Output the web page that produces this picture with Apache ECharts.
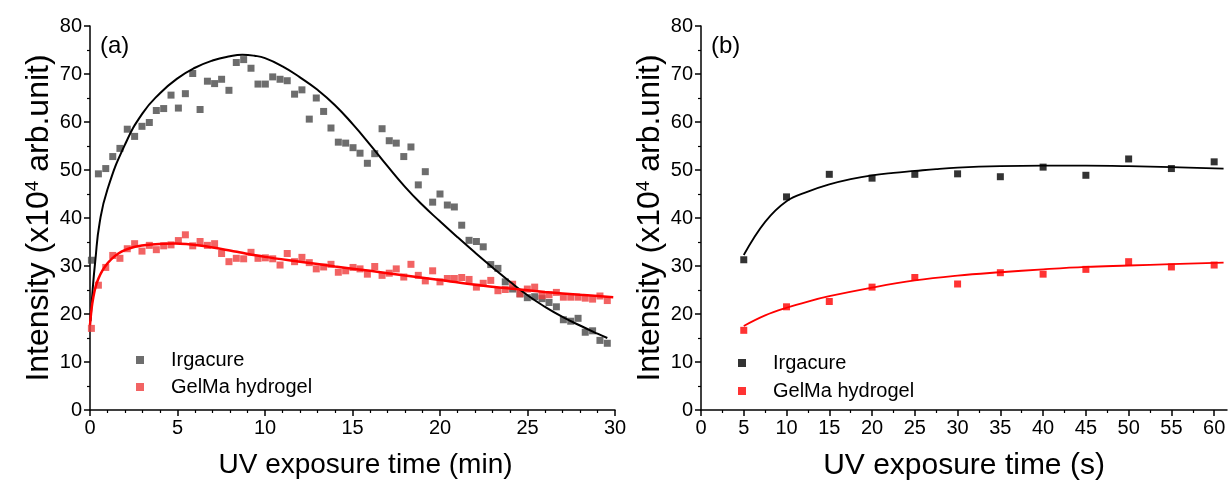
<!DOCTYPE html>
<html>
<head>
<meta charset="utf-8">
<script src="https://cdn.jsdelivr.net/npm/echarts@6/dist/echarts.min.js"></script>
<style>
  html, body { margin: 0; padding: 0; background: #fff; }
  #main { width: 1231px; height: 493px; }
</style>
</head>
<body>
<div id="main"></div>
<script>
// (a) UV exposure time (min) vs intensity
var timeA = [0.08, 0.48, 0.9, 1.3, 1.71, 2.13, 2.55, 2.97, 3.39, 3.79, 4.21, 4.63, 5.05, 5.45, 5.87, 6.29, 6.71, 7.12, 7.52, 7.94,
  8.36, 8.78, 9.2, 9.6, 10.02, 10.44, 10.86, 11.27, 11.69, 12.11, 12.53, 12.93, 13.35, 13.77, 14.19, 14.61, 15.03, 15.43, 15.85, 16.27,
  16.69, 17.1, 17.5, 17.93, 18.34, 18.76, 19.16, 19.58, 20.0, 20.42, 20.82, 21.24, 21.66, 22.08, 22.47, 22.9, 23.31, 23.73, 24.15, 24.57,
  24.99, 25.41, 25.83, 26.23, 26.65, 27.05, 27.47, 27.89, 28.3, 28.72, 29.14, 29.56];
var irgacureA = [31.2, 49.2, 50.3, 52.8, 54.5, 58.5, 57.0, 59.1, 59.9, 62.4, 62.8, 65.6, 62.9, 65.9, 70.1, 62.6, 68.5, 68.0, 68.9, 66.6,
  72.4, 73.0, 71.2, 67.9, 67.9, 69.4, 68.9, 68.6, 65.8, 66.7, 60.6, 65.0, 62.2, 58.75, 55.8, 55.6, 54.65, 53.5, 51.4, 53.4,
  58.6, 56.1, 55.6, 52.8, 54.8, 46.9, 49.65, 43.3, 45.0, 42.7, 42.3, 38.5, 35.35, 35.1, 34.0, 30.3, 29.5, 26.7, 25.2, 24.2,
  23.4, 23.6, 23.2, 22.4, 21.5, 18.8, 18.5, 19.1, 16.2, 16.5, 14.5, 13.9];
var gelmaA = [17.0, 26.0, 29.7, 32.2, 31.6, 33.6, 34.65, 33.1, 34.3, 33.4, 34.2, 34.4, 35.3, 36.5, 34.2, 35.1, 34.3, 34.65, 32.6, 30.9,
  31.6, 31.5, 32.85, 31.6, 31.7, 31.5, 30.2, 32.6, 30.9, 31.8, 30.7, 29.4, 29.8, 30.35, 28.7, 29.0, 29.7, 29.4, 28.3, 29.9,
  28.05, 28.5, 29.4, 27.7, 30.35, 28.05, 26.9, 29.0, 26.7, 27.4, 27.4, 27.6, 27.2, 25.6, 26.4, 27.0, 24.85, 25.1, 26.2, 24.2,
  25.2, 25.6, 23.8, 24.0, 24.5, 23.5, 23.5, 23.5, 23.3, 23.1, 23.75, 22.8];
// fitted curves
var fitTimeIrgA = [0.03, 0.15, 0.3, 0.55, 1, 2, 3, 4, 5, 6, 7, 8, 8.7, 9.4, 10, 11, 12, 13, 14, 15, 16, 17, 18, 19, 20, 21, 22, 23, 24, 25, 26, 27, 28, 29, 29.56];
var fitIrgA = [18.5, 25, 31, 39, 46, 55.3, 61.8, 66.0, 69.1, 71.3, 72.8, 73.7, 74.0, 73.8, 73.3, 71.6, 69.3, 66.7, 63.5, 59.6, 55.3, 50.8, 46.5, 42.7, 39.3, 36.0, 32.8, 29.7, 26.7, 23.9, 21.5, 19.4, 17.6, 15.9, 15.0];
var fitTimeGelA = [0.0, 0.13, 0.38, 0.86, 1.62, 2.57, 3.52, 4.86, 6.38, 8.29, 10, 12, 14, 16, 18, 20, 22, 24, 26, 28, 29.9];
var fitGelA = [17.7, 22.2, 26.4, 29.9, 32.6, 34.0, 34.5, 34.7, 34.2, 33.0, 31.9, 30.9, 29.9, 29.0, 28.0, 27.1, 26.1, 25.3, 24.6, 24.0, 23.5];

// (b) UV exposure time (s) vs intensity
var timeB = [5, 10, 15, 20, 25, 30, 35, 40, 45, 50, 55, 60];
var irgacureB = [31.3, 44.4, 49.1, 48.3, 49.1, 49.2, 48.6, 50.6, 48.9, 52.3, 50.3, 51.7];
var gelmaB = [16.6, 21.5, 22.6, 25.6, 27.6, 26.25, 28.6, 28.3, 29.3, 30.9, 29.8, 30.2];
var fitTimeIrgB = [5, 7.5, 10, 12.5, 15, 17.5, 20, 22.5, 25, 27.5, 30, 35, 40, 45, 50, 55, 61.1];
var fitIrgB = [32.3, 39.2, 43.5, 45.5, 47.0, 48.1, 48.9, 49.4, 49.8, 50.2, 50.5, 50.8, 50.9, 50.9, 50.8, 50.6, 50.3];
var fitTimeGelB = [5, 7.5, 10, 12.5, 15, 20, 25, 30, 35, 40, 45, 50, 55, 61.1];
var fitGelB = [17.5, 19.7, 21.3, 22.6, 23.7, 25.5, 27.0, 28.0, 28.7, 29.3, 29.8, 30.1, 30.4, 30.7];

var ticksB = [0, 5, 10, 15, 20, 25, 30, 35, 40, 45, 50, 55, 60];

function pairs(xs, ys) {
  var out = [];
  for (var i = 0; i < xs.length; i++) out.push([xs[i], ys[i]]);
  return out;
}

var font = 'Liberation Sans, Arial, sans-serif';
var axisLineStyle = { color: '#000', width: 1.5 };

function xAxisOf(idx, max, interval, minorSplit, name, nameSize, namePad) {
  return {
    type: 'value', gridIndex: idx, min: 0, max: max, interval: interval,
    name: name, nameLocation: 'middle', nameGap: 41,
    nameTextStyle: { fontFamily: font, fontSize: nameSize, color: '#000', padding: namePad },
    axisLine: { show: true, onZero: false, lineStyle: axisLineStyle },
    axisTick: { show: true, inside: false, length: 6, lineStyle: axisLineStyle },
    minorTick: { show: true, splitNumber: minorSplit, length: 3, lineStyle: { color: '#000', width: 1.2 } },
    axisLabel: { fontFamily: font, fontSize: 20, color: '#000', margin: 8 },
    splitLine: { show: false }
  };
}

function yAxisOf(idx) {
  return {
    type: 'value', gridIndex: idx, min: 0, max: 80, interval: 10,
    name: 'Intensity (x10{sup|4} arb.unit)', nameLocation: 'middle', nameGap: 34,
    nameTextStyle: {
      fontFamily: font, fontSize: 32, color: '#000',
      rich: { sup: { fontFamily: font, fontSize: 19, color: '#000', verticalAlign: 'top', padding: [0, 0, 14, 0] } }
    },
    axisLine: { show: true, onZero: false, lineStyle: axisLineStyle },
    axisTick: { show: true, inside: false, length: 6, lineStyle: axisLineStyle },
    minorTick: { show: true, splitNumber: 2, length: 3, lineStyle: { color: '#000', width: 1.2 } },
    axisLabel: { fontFamily: font, fontSize: 20, color: '#000', margin: 8 },
    splitLine: { show: false }
  };
}

var xA = xAxisOf(0, 30, 5, 5, 'UV exposure time (min)', 28, [0, 0, 0, 26]);
var xB = xAxisOf(1, 61.5, 5, 2, 'UV exposure time (s)', 30, 0);
xB.axisTick.customValues = ticksB;
xB.axisLabel.customValues = ticksB;

var legendText = { fontFamily: font, fontSize: 20, color: '#000', lineHeight: 20, padding: [0, 0, 0, 22] };

var chart = echarts.init(document.getElementById('main'));
chart.setOption({
  backgroundColor: '#fff',
  animation: false,
  grid: [
    { left: 90, top: 26, width: 525, height: 384 },
    { left: 701, top: 26, width: 526, height: 384 }
  ],
  xAxis: [xA, xB],
  yAxis: [yAxisOf(0), yAxisOf(1)],
  legend: [
    {
      left: 131, top: 345, orient: 'vertical', itemWidth: 8, itemHeight: 8, itemGap: 7,
      icon: 'rect', textStyle: legendText, selectedMode: false,
      data: [
        { name: 'Irgacure', itemStyle: { color: '#484848' } },
        { name: 'GelMa hydrogel', itemStyle: { color: '#ef3c3c' } }
      ]
    },
    {
      left: 733, top: 348, orient: 'vertical', itemWidth: 8, itemHeight: 8, itemGap: 8,
      icon: 'rect', textStyle: legendText, selectedMode: false,
      data: [
        { name: 'Irgacure', itemStyle: { color: '#000' } },
        { name: 'GelMa hydrogel', itemStyle: { color: '#ff0000' } }
      ]
    }
  ],
  graphic: [
    { type: 'text', left: 100, top: 34, style: { text: '(a)', fontFamily: font, fontSize: 24, fill: '#000' } },
    { type: 'text', left: 711, top: 34, style: { text: '(b)', fontFamily: font, fontSize: 24, fill: '#000' } }
  ],
  series: [
    { name: 'Irgacure', type: 'scatter', xAxisIndex: 0, yAxisIndex: 0, symbol: 'rect', symbolSize: 7,
      itemStyle: { color: '#484848' }, data: pairs(timeA, irgacureA) },
    { name: 'GelMa hydrogel', type: 'scatter', xAxisIndex: 0, yAxisIndex: 0, symbol: 'rect', symbolSize: 7,
      itemStyle: { color: '#ef3c3c' }, data: pairs(timeA, gelmaA) },
    { name: 'Irgacure fit (a)', type: 'line', xAxisIndex: 0, yAxisIndex: 0, smooth: 0.5, showSymbol: false,
      lineStyle: { color: '#000', width: 2 }, data: pairs(fitTimeIrgA, fitIrgA), z: 3 },
    { name: 'GelMa fit (a)', type: 'line', xAxisIndex: 0, yAxisIndex: 0, smooth: 0.3, showSymbol: false,
      lineStyle: { color: '#ff0000', width: 2.5 }, data: pairs(fitTimeGelA, fitGelA), z: 3 },

    { name: 'Irgacure', type: 'scatter', xAxisIndex: 1, yAxisIndex: 1, symbol: 'rect', symbolSize: 7,
      itemStyle: { color: '#000' }, data: pairs(timeB, irgacureB) },
    { name: 'GelMa hydrogel', type: 'scatter', xAxisIndex: 1, yAxisIndex: 1, symbol: 'rect', symbolSize: 7,
      itemStyle: { color: '#ff0000' }, data: pairs(timeB, gelmaB) },
    { name: 'Irgacure fit (b)', type: 'line', xAxisIndex: 1, yAxisIndex: 1, smooth: 0.4, showSymbol: false,
      lineStyle: { color: '#000', width: 1.8 }, data: pairs(fitTimeIrgB, fitIrgB) },
    { name: 'GelMa fit (b)', type: 'line', xAxisIndex: 1, yAxisIndex: 1, smooth: 0.4, showSymbol: false,
      lineStyle: { color: '#ff0000', width: 1.8 }, data: pairs(fitTimeGelB, fitGelB) }
  ]
});
</script>
</body>
</html>
